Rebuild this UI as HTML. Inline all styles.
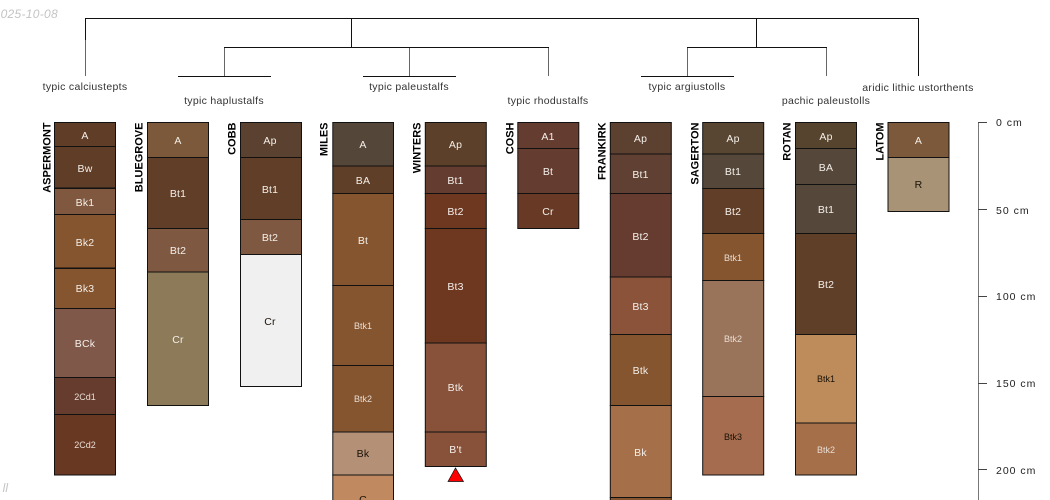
<!DOCTYPE html>
<html><head><meta charset="utf-8"><title>Soil profiles</title>
<style>
html,body{margin:0;padding:0;background:#fff}
svg{display:block}
text{font-family:"Liberation Sans",sans-serif}
.h rect{stroke:#111;stroke-width:1}
.t text{text-anchor:middle;font-size:10.5px;fill:#f4efe9;letter-spacing:.2px}
.t text.s{font-size:9px;fill:#e8dcd2;letter-spacing:0}
.t text.d{fill:#1a1208}
.id text{font-size:11px;font-weight:bold;text-anchor:end;fill:#000}
.tax text{font-size:10.5px;text-anchor:middle;fill:#333;letter-spacing:.3px}
.sc text{font-size:10.5px;fill:#222;letter-spacing:1px}
</style></head><body>
<svg xmlns="http://www.w3.org/2000/svg" width="1050" height="500" viewBox="0 0 1050 500">
<text x="58" y="18" text-anchor="end" font-size="12" letter-spacing=".3" font-style="italic" fill="#c4c4c4">2025-10-08</text>
<text x="8" y="492" text-anchor="end" font-size="12" font-style="italic" fill="#c4c4c4">ll</text>

<g fill="none" stroke="#111" stroke-width="1" shape-rendering="crispEdges">
<path d="M85.5 76V18.5H918.5V76"/>
<path d="M351.5 18.5V47.5M756.5 18.5V47.5"/>
<path d="M224.5 76V47.5H548.5V76M409.5 47.5V76"/>
<path d="M687.5 76V47.5H826.5V76"/>
<path d="M178 76.5H271M363 76.5H456M641 76.5H734"/>
</g>
<g stroke="#666" stroke-width="1" shape-rendering="crispEdges"><path d="M85.5 40V76M224.5 48V76M409.5 48V76M548.5 48V76M687.5 48V76M826.5 48V76"/></g>

<g class="tax">
<text x="85" y="90">typic calciustepts</text>
<text x="224" y="104">typic haplustalfs</text>
<text x="409" y="90">typic paleustalfs</text>
<text x="548" y="104">typic rhodustalfs</text>
<text x="687" y="90">typic argiustolls</text>
<text x="826" y="104">pachic paleustolls</text>
<text x="918" y="91">aridic lithic ustorthents</text>
</g>

<g class="id">
<text transform="translate(50.500,122.500) rotate(-90)">ASPERMONT</text>
<text transform="translate(142.500,122.500) rotate(-90)">BLUEGROVE</text>
<text transform="translate(235.500,122.500) rotate(-90)">COBB</text>
<text transform="translate(327.500,122.500) rotate(-90)">MILES</text>
<text transform="translate(420.500,122.500) rotate(-90)">WINTERS</text>
<text transform="translate(513.500,122.500) rotate(-90)">COSH</text>
<text transform="translate(605.500,122.500) rotate(-90)">FRANKIRK</text>
<text transform="translate(698.500,122.500) rotate(-90)">SAGERTON</text>
<text transform="translate(790.500,122.500) rotate(-90)">ROTAN</text>
<text transform="translate(883.500,122.500) rotate(-90)">LATOM</text>
</g>

<g class="h">
<rect x="54.500" y="122.500" width="61" height="24" fill="#5f3d27"/>
<rect x="54.500" y="146.500" width="61" height="41.500" fill="#5f3d27"/>
<rect x="54.500" y="188.500" width="61" height="26" fill="#7f583f"/>
<rect x="54.500" y="214.500" width="61" height="53.500" fill="#85552f"/>
<rect x="54.500" y="268.500" width="61" height="40" fill="#85552f"/>
<rect x="54.500" y="308.500" width="61" height="69" fill="#80584a"/>
<rect x="54.500" y="377.500" width="61" height="37" fill="#653c2e"/>
<rect x="54.500" y="414.500" width="61" height="60.500" fill="#693823"/>

<rect x="147.500" y="122.500" width="61" height="35" fill="#7c593a"/>
<rect x="147.500" y="157.500" width="61" height="71" fill="#613e28"/>
<rect x="147.500" y="228.500" width="61" height="43.500" fill="#7e5840"/>
<rect x="147.500" y="272" width="61" height="133.500" fill="#8c7a59"/>

<rect x="240.500" y="122.500" width="61" height="35" fill="#5b4130"/>
<rect x="240.500" y="157.500" width="61" height="62" fill="#613e28"/>
<rect x="240.500" y="219.500" width="61" height="35" fill="#7e5840"/>
<rect x="240.500" y="254.500" width="61" height="132" fill="#f0f0f0"/>

<rect x="332.800" y="122.500" width="60.700" height="43.500" fill="#55463a"/>
<rect x="332.800" y="166" width="60.700" height="27.500" fill="#5f3f28"/>
<rect x="332.800" y="193.500" width="60.700" height="92" fill="#85552f"/>
<rect x="332.800" y="285.500" width="60.700" height="80" fill="#85552f"/>
<rect x="332.800" y="365.500" width="60.700" height="66.500" fill="#85552f"/>
<rect x="332.800" y="432" width="60.700" height="43" fill="#b49176"/>
<rect x="332.800" y="475" width="60.700" height="40" fill="#c0895f"/>

<rect x="425.300" y="122.500" width="61" height="43.500" fill="#5c4029"/>
<rect x="425.300" y="166" width="61" height="27.500" fill="#653c30"/>
<rect x="425.300" y="193.500" width="61" height="35" fill="#6e3720"/>
<rect x="425.300" y="228.500" width="61" height="114.500" fill="#6e3720"/>
<rect x="425.300" y="343" width="61" height="89" fill="#88523a"/>
<rect x="425.300" y="432" width="61" height="34.500" fill="#88523a"/>

<rect x="517.800" y="122.500" width="61" height="26" fill="#653c30"/>
<rect x="517.800" y="148.500" width="61" height="45" fill="#653c30"/>
<rect x="517.800" y="193.500" width="61" height="35" fill="#683a26"/>

<rect x="610.300" y="122.500" width="61" height="31.500" fill="#5c4030"/>
<rect x="610.300" y="154" width="61" height="39.500" fill="#5f4033"/>
<rect x="610.300" y="193.500" width="61" height="83.500" fill="#663c30"/>
<rect x="610.300" y="277" width="61" height="57.500" fill="#8a533a"/>
<rect x="610.300" y="334.500" width="61" height="71" fill="#85552f"/>
<rect x="610.300" y="405.500" width="61" height="92" fill="#a56f49"/>
<rect x="610.300" y="497.500" width="61" height="20" fill="#85552f"/>

<rect x="702.700" y="122.500" width="61" height="31.500" fill="#594632"/>
<rect x="702.700" y="154" width="61" height="34.500" fill="#55483a"/>
<rect x="702.700" y="188.500" width="61" height="45" fill="#613e28"/>
<rect x="702.700" y="233.500" width="61" height="47" fill="#85552f"/>
<rect x="702.700" y="280.500" width="61" height="116" fill="#9a745a"/>
<rect x="702.700" y="396.500" width="61" height="78.500" fill="#a66c4f"/>

<rect x="795.500" y="122.500" width="61" height="26" fill="#57442e"/>
<rect x="795.500" y="148.500" width="61" height="36" fill="#55483a"/>
<rect x="795.500" y="184.500" width="61" height="49" fill="#55483a"/>
<rect x="795.500" y="233.500" width="61" height="101" fill="#5f3f28"/>
<rect x="795.500" y="334.500" width="61" height="88.500" fill="#bd8c5a"/>
<rect x="795.500" y="423" width="61" height="52" fill="#a56f49"/>

<rect x="888" y="122.500" width="61" height="35" fill="#7c593a"/>
<rect x="888" y="157.500" width="61" height="54" fill="#a99376"/>
</g>

<g class="t">
<text x="85" y="139">A</text><text x="85" y="172">Bw</text><text x="85" y="206">Bk1</text><text x="85" y="246">Bk2</text><text x="85" y="292">Bk3</text><text x="85" y="347">BCk</text><text class="s" x="85" y="400">2Cd1</text><text class="s" x="85" y="448">2Cd2</text>
<text x="178" y="144">A</text><text x="178" y="197">Bt1</text><text x="178" y="254">Bt2</text><text x="178" y="343">Cr</text>
<text x="270" y="144">Ap</text><text x="270" y="193">Bt1</text><text x="270" y="241">Bt2</text><text class="d" x="270" y="325">Cr</text>
<text x="363" y="148">A</text><text x="363" y="184">BA</text><text x="363" y="244">Bt</text><text class="s" x="363" y="329">Btk1</text><text class="s" x="363" y="402">Btk2</text><text class="d" x="363" y="457">Bk</text><text class="d" x="363" y="503">C</text>
<text x="455.500" y="148">Ap</text><text x="455.500" y="184">Bt1</text><text x="455.500" y="215">Bt2</text><text x="455.500" y="290">Bt3</text><text x="455.500" y="391">Btk</text><text x="455.500" y="453">B't</text>
<text x="548" y="140">A1</text><text x="548" y="175">Bt</text><text x="548" y="215">Cr</text>
<text x="640.500" y="142">Ap</text><text x="640.500" y="178">Bt1</text><text x="640.500" y="240">Bt2</text><text x="640.500" y="310">Bt3</text><text x="640.500" y="374">Btk</text><text x="640.500" y="456">Bk</text>
<text x="733" y="142">Ap</text><text x="733" y="175">Bt1</text><text x="733" y="215">Bt2</text><text class="s" x="733" y="261">Btk1</text><text class="s" x="733" y="342">Btk2</text><text class="s d" x="733" y="440">Btk3</text>
<text x="826" y="140">Ap</text><text x="826" y="171">BA</text><text x="826" y="213">Bt1</text><text x="826" y="288">Bt2</text><text class="s d" x="826" y="382">Btk1</text><text class="s" x="826" y="453">Btk2</text>
<text x="918.500" y="144">A</text><text class="d" x="918.500" y="188">R</text>
</g>

<polygon points="448,481.500 463.500,481.500 455.500,468" fill="#f00" stroke="#111" stroke-width="0.7"/>

<g fill="none" stroke="#777" stroke-width="1" shape-rendering="crispEdges">
<path d="M978.500 122.500V500"/>
<path d="M978 122.500H987M978 209.500H987M978 296.500H987M978 383.500H987M978 469.500H987" stroke="#444"/>
</g>
<g class="sc">
<text x="996" y="126">0 cm</text>
<text x="996" y="214">50 cm</text>
<text x="996" y="300">100 cm</text>
<text x="996" y="387">150 cm</text>
<text x="996" y="474">200 cm</text>
</g>
</svg>
</body></html>
